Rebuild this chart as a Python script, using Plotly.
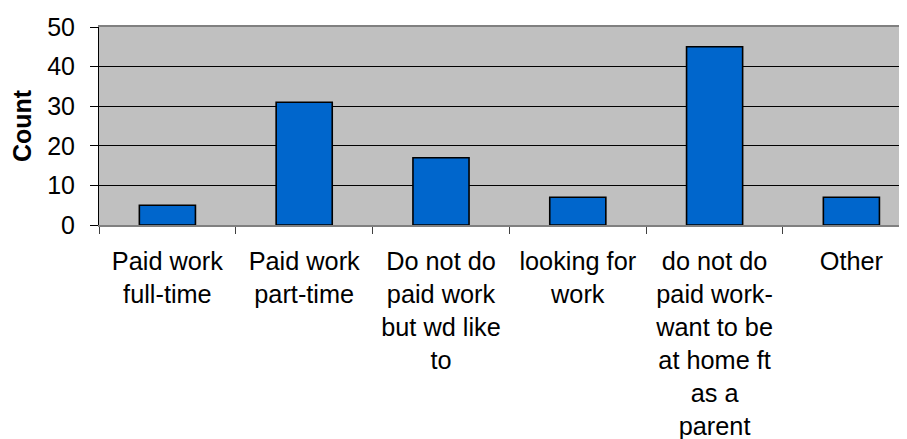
import plotly.graph_objects as go

categories = [
    "Paid work full-time",
    "Paid work part-time",
    "Do not do paid work but wd like to",
    "looking for work",
    "do not do paid work- want to be at home ft as a parent",
    "Other",
]
tick_labels = [
    "Paid work<br>full-time",
    "Paid work<br>part-time",
    "Do not do<br>paid work<br>but wd like<br>to",
    "looking for<br>work",
    "do not do<br>paid work-<br>want to be<br>at home ft<br>as a<br>parent",
    "Other",
]
counts = [5, 31, 17, 7, 45, 7]

FONT = "Liberation Sans, Arial, sans-serif"

fig = go.Figure(
    go.Bar(
        x=categories,
        y=counts,
        width=0.41,
        marker=dict(color="#0066CC", line=dict(color="#000000", width=1.6)),
    )
)

# the page body has an 8px margin, so the margins are set 8px smaller
fig.update_layout(
    width=907,
    height=439,
    paper_bgcolor="white",
    plot_bgcolor="#C0C0C0",
    margin=dict(l=91, r=0, t=19, b=222),
    font=dict(family=FONT, size=25.3, color="black"),
    showlegend=False,
)

fig.update_xaxes(
    type="category",
    automargin=False,
    range=[-0.5, 5.465],
    tickmode="array",
    tickvals=categories,
    ticktext=tick_labels,
    tickangle=0,
    ticks="outside",
    tickson="boundaries",
    ticklen=7,
    tickcolor="#404040",
    showline=True,
    linecolor="#808080",
    linewidth=2,
    mirror=True,
    showgrid=False,
    ticklabelstandoff=13,
)
fig.update_yaxes(
    automargin=False,
    range=[0, 50],
    dtick=10,
    ticks="outside",
    ticklen=8,
    tickcolor="black",
    showline=True,
    linecolor="black",
    linewidth=1,
    showgrid=True,
    gridcolor="black",
    gridwidth=1,
    zeroline=False,
    ticklabelstandoff=10,
    tickfont=dict(size=25),
    title=dict(text="<b>Count</b>", font=dict(size=25), standoff=10),
)

fig.write_html("out.html")
